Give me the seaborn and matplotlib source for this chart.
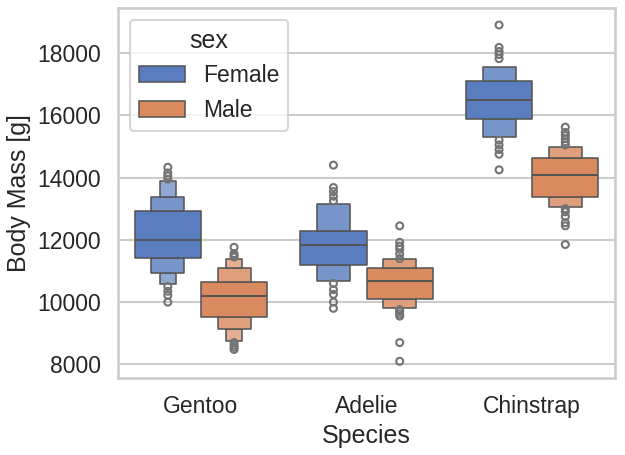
import seaborn as sns
import pandas as pd
import matplotlib.pyplot as plt

species = ['Gentoo', 'Adelie', 'Chinstrap']
sexes = ['Female', 'Male']

gentoo_female = [10000, 10220, 10350, 10500, 10580, 10700, 10800, 10900, 10930, 11000,
                 11080, 11150, 11220, 11290, 11350, 11400, 11415, 11450, 11500, 11540,
                 11580, 11620, 11660, 11700, 11740, 11780, 11820, 11860, 11890, 11920,
                 11950, 11980, 12000, 12050, 12100, 12150, 12200, 12260, 12320, 12380,
                 12440, 12500, 12560, 12620, 12680, 12750, 12820, 12900, 12950, 13010,
                 13070, 13130, 13190, 13250, 13310, 13360, 13420, 13560, 13720, 13870,
                 13950, 14050, 14150, 14330]
gentoo_male = [8480, 8550, 8620, 8700, 8745, 8850, 8960, 9100, 9130, 9180,
               9230, 9280, 9330, 9380, 9430, 9500, 9515, 9560, 9610, 9660,
               9710, 9760, 9810, 9860, 9910, 9950, 9990, 10030, 10070, 10110,
               10150, 10180, 10200, 10230, 10260, 10290, 10320, 10350, 10380, 10410,
               10440, 10470, 10500, 10530, 10560, 10590, 10615, 10630, 10660, 10720,
               10780, 10840, 10900, 10960, 11020, 11080, 11120, 11200, 11290, 11370,
               11450, 11500, 11560, 11760]
adelie_female = [9800, 10000, 10250, 10400, 10600, 10680, 10750, 10850, 10950, 11150,
                 11190, 11300, 11400, 11480, 11560, 11620, 11680, 11730, 11780, 11810,
                 11840, 11880, 11930, 11980, 12030, 12080, 12130, 12180, 12230, 12260,
                 12320, 12500, 12700, 12900, 13130, 13250, 13400, 13550, 13680, 14400]
adelie_male = [8100, 8700, 9550, 9620, 9700, 9760, 9860, 9900, 9950, 10000,
               10060, 10100, 10180, 10260, 10340, 10410, 10470, 10520, 10570, 10610,
               10640, 10660, 10680, 10720, 10760, 10800, 10840, 10880, 10920, 10960,
               11000, 11040, 11080, 11100, 11160, 11220, 11280, 11360, 11400, 11550,
               11700, 11800, 11920, 12450]
chinstrap_female = [14250, 14750, 14900, 15050, 15200, 15310, 15450, 15600, 15750, 15850,
                    15890, 15980, 16060, 16140, 16210, 16280, 16340, 16400, 16450, 16480,
                    16500, 16560, 16620, 16680, 16740, 16800, 16860, 16930, 17000, 17080,
                    17160, 17250, 17350, 17450, 17520, 17820, 17950, 18050, 18180, 18900]
chinstrap_male = [11850, 12450, 12550, 12750, 12900, 13000, 13060, 13120, 13180, 13240,
                  13290, 13340, 13380, 13450, 13530, 13610, 13690, 13760, 13830, 13890,
                  13950, 14000, 14040, 14070, 14090, 14130, 14180, 14230, 14280, 14330,
                  14380, 14430, 14480, 14530, 14580, 14610, 14650, 14720, 14800, 14870,
                  14930, 14980, 15050, 15150, 15250, 15350, 15450, 15620]


def main():
    groups = {
        ('Gentoo', 'Female'): gentoo_female,
        ('Gentoo', 'Male'): gentoo_male,
        ('Adelie', 'Female'): adelie_female,
        ('Adelie', 'Male'): adelie_male,
        ('Chinstrap', 'Female'): chinstrap_female,
        ('Chinstrap', 'Male'): chinstrap_male,
    }
    rows = []
    for (sp, sx), vals in groups.items():
        for v in vals:
            rows.append({'species': sp, 'sex': sx, 'body_mass': v})
    df = pd.DataFrame(rows)

    sns.set_theme(style='whitegrid', context='talk')
    plt.rcParams['font.family'] = ['Liberation Sans', 'DejaVu Sans']

    fig, ax = plt.subplots(figsize=(6.25, 4.55), dpi=100)
    sns.boxenplot(data=df, x='species', y='body_mass', hue='sex',
                  order=species, hue_order=sexes, palette='muted', ax=ax)

    ax.set_xlabel('Species')
    ax.set_ylabel('Body Mass [g]')
    sns.move_legend(ax, 'upper left', title='sex')

    fig.subplots_adjust(left=0.189, right=0.984, top=0.982, bottom=0.169)
    fig.savefig('out.png', dpi=100)


if __name__ == "__main__":
    main()
